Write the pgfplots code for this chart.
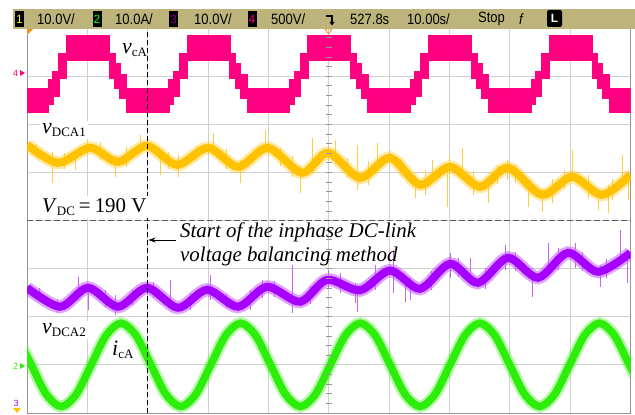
\documentclass[border=0pt]{standalone}
\usepackage{pgfplots}
\pgfplotsset{compat=1.18}
\usetikzlibrary{arrows.meta}
\usepackage{fontspec}
\setmainfont{Liberation Serif}
\newfontfamily\hdr{Liberation Sans}
\definecolor{pinkc}{RGB}{255,0,128}
\definecolor{yellowc}{RGB}{255,194,0}
\definecolor{yspike}{RGB}{255,206,60}
\definecolor{purplec}{RGB}{166,0,255}
\definecolor{pspike}{RGB}{196,100,255}
\definecolor{greenc}{RGB}{45,238,10}
\definecolor{gridc}{RGB}{208,208,208}
\definecolor{borderc}{RGB}{150,150,150}
\definecolor{barc}{RGB}{188,180,122}
\definecolor{orangec}{RGB}{245,140,30}
\newcommand{\hfont}{\hdr\fontsize{15}{15}\selectfont}
\newcommand{\htxt}[1]{\scalebox{0.87}[1]{\hfont #1}}
\newcommand{\sub}[1]{\raisebox{-3.5bp}{\fontsize{13}{13}\selectfont #1}}
\begin{document}
\begin{tikzpicture}[x=1bp,y=1bp]
\fill[white] (0,0) rectangle (635,414);
\begin{axis}[
  at={(27bp,1bp)}, anchor=south west, scale only axis,
  width=603.5bp, height=385bp,
  xmin=0, xmax=10, ymin=-4, ymax=4,
  xtick={1,...,9}, ytick={-3,...,3},
  xticklabels={}, yticklabels={},
  major tick length=0pt,
  grid=major, major grid style={draw=gridc, line width=0.9bp},
  axis line style={draw=borderc, line width=1bp},
  clip=true,
]
% ---- channel 4 : v_cA (pink, multilevel PWM band: upper edge left to right, lower edge right to left)
\addplot[fill=pinkc, draw=pinkc, line width=1.3bp] coordinates {
(0,2.735)
(0.355,2.735)(0.355,2.921)(0.43,2.921)(0.43,3.087)(0.53,3.087)(0.53,3.462)(0.654,3.462)(0.654,3.836)(1.366,3.836)(1.366,3.462)(1.457,3.462)(1.457,3.254)(1.54,3.254)(1.54,3.026)(1.65,3.026)(1.65,2.735)
(2.355,2.735)(2.355,2.921)(2.43,2.921)(2.43,3.087)(2.53,3.087)(2.53,3.462)(2.654,3.462)(2.654,3.836)(3.366,3.836)(3.366,3.462)(3.457,3.462)(3.457,3.254)(3.54,3.254)(3.54,3.026)(3.65,3.026)(3.65,2.735)
(4.355,2.735)(4.355,2.921)(4.43,2.921)(4.43,3.087)(4.53,3.087)(4.53,3.462)(4.654,3.462)(4.654,3.836)(5.366,3.836)(5.366,3.462)(5.457,3.462)(5.457,3.254)(5.54,3.254)(5.54,3.026)(5.65,3.026)(5.65,2.735)
(6.355,2.735)(6.355,2.921)(6.43,2.921)(6.43,3.087)(6.53,3.087)(6.53,3.462)(6.654,3.462)(6.654,3.836)(7.366,3.836)(7.366,3.462)(7.457,3.462)(7.457,3.254)(7.54,3.254)(7.54,3.026)(7.65,3.026)(7.65,2.735)
(8.355,2.735)(8.355,2.921)(8.43,2.921)(8.43,3.087)(8.53,3.087)(8.53,3.462)(8.654,3.462)(8.654,3.836)(9.366,3.836)(9.366,3.462)(9.457,3.462)(9.457,3.254)(9.54,3.254)(9.54,3.026)(9.65,3.026)(9.65,2.735)
(10,2.735)
(10,2.237)
(9.65,2.237)(9.65,2.528)(9.54,2.528)(9.54,2.756)(9.457,2.756)(9.457,2.964)(9.366,2.964)(9.366,3.338)(8.654,3.338)(8.654,2.964)(8.53,2.964)(8.53,2.589)(8.43,2.589)(8.43,2.423)(8.355,2.423)(8.355,2.237)
(7.65,2.237)(7.65,2.528)(7.54,2.528)(7.54,2.756)(7.457,2.756)(7.457,2.964)(7.366,2.964)(7.366,3.338)(6.654,3.338)(6.654,2.964)(6.53,2.964)(6.53,2.589)(6.43,2.589)(6.43,2.423)(6.355,2.423)(6.355,2.237)
(5.65,2.237)(5.65,2.528)(5.54,2.528)(5.54,2.756)(5.457,2.756)(5.457,2.964)(5.366,2.964)(5.366,3.338)(4.654,3.338)(4.654,2.964)(4.53,2.964)(4.53,2.589)(4.43,2.589)(4.43,2.423)(4.355,2.423)(4.355,2.237)
(3.65,2.237)(3.65,2.528)(3.54,2.528)(3.54,2.756)(3.457,2.756)(3.457,2.964)(3.366,2.964)(3.366,3.338)(2.654,3.338)(2.654,2.964)(2.53,2.964)(2.53,2.589)(2.43,2.589)(2.43,2.423)(2.355,2.423)(2.355,2.237)
(1.65,2.237)(1.65,2.528)(1.54,2.528)(1.54,2.756)(1.457,2.756)(1.457,2.964)(1.366,2.964)(1.366,3.338)(0.654,3.338)(0.654,2.964)(0.53,2.964)(0.53,2.589)(0.43,2.589)(0.43,2.423)(0.355,2.423)(0.355,2.237)
(0,2.237)} -- cycle;
% ---- channel 1 : v_DCA1 (yellow)
\addplot[smooth, yellowc, line width=13bp, opacity=0.35] coordinates {
(0,1.572)(0.514,1.198)(1.044,1.510)(1.508,1.219)(1.989,1.551)(2.486,1.157)(3.000,1.510)(3.496,1.115)(3.993,1.510)(4.557,0.991)(4.988,1.406)(5.518,0.887)(6.015,1.302)(6.512,0.742)(7.009,1.115)(7.506,0.700)(7.970,1.094)(8.534,0.534)(9.031,0.908)(9.528,0.534)(10.0,0.949)};
\addplot[draw=none, mark=none, error bars/.cd, y dir=both, y explicit, error mark=none,
  error bar style={line width=0.7bp, draw=yspike}] coordinates {
(0.414,1.105)+-(0,0.322) (0.795,1.261)+-(0,0.208) (1.458,1.136)+-(0,0.228) (1.872,1.624)+-(0,0.156)
(2.502,1.136)+-(0,0.228) (3.082,1.645)+-(0,0.177) (3.529,1.022)+-(0,0.239) (3.944,1.676)+-(0,0.208)
(4.524,0.866)+-(0,0.291) (4.722,1.437)+-(0,0.280) (5.468,1.105)+-(0,0.467) (5.800,1.385)+-(0,0.228)
(6.429,0.710)+-(0,0.239) (6.711,1.053)+-(0,0.208) (6.959,0.721)+-(0,0.436) (7.208,1.229)+-(0,0.280)
(7.639,0.606)+-(0,0.239) (7.954,1.053)+-(0,0.208) (8.302,0.513)+-(0,0.228) (8.534,0.430)+-(0,0.249)
(9.031,1.157)+-(0,0.312) (9.461,0.430)+-(0,0.208) (9.627,0.451)+-(0,0.291) (9.859,1.105)+-(0,0.260)
(9.958,0.741)+-(0,0.312) (1.210,1.448)+-(0,0.187) (2.204,1.209)+-(0,0.260) (5.104,1.416)+-(0,0.260)
(0.15,1.45)+-(0,0.15) (0.62,1.23)+-(0,0.17) (1.0,1.55)+-(0,0.14) (1.65,1.32)+-(0,0.2) (2.35,1.25)+-(0,0.18)
(2.8,1.39)+-(0,0.15) (3.3,1.28)+-(0,0.2) (4.2,1.32)+-(0,0.18) (4.4,1.12)+-(0,0.22) (5.3,1.10)+-(0,0.2)
(5.65,0.98)+-(0,0.25) (6.2,1.10)+-(0,0.2) (6.6,0.79)+-(0,0.25) (7.0,1.11)+-(0,0.22) (7.4,0.78)+-(0,0.25)
(7.8,0.95)+-(0,0.2) (8.1,0.98)+-(0,0.2) (8.7,0.62)+-(0,0.25) (8.9,0.85)+-(0,0.2) (9.3,0.70)+-(0,0.25) (9.7,0.65)+-(0,0.22)};
\addplot[smooth, yellowc, line width=8bp] coordinates {
(0,1.572)(0.514,1.198)(1.044,1.510)(1.508,1.219)(1.989,1.551)(2.486,1.157)(3.000,1.510)(3.496,1.115)(3.993,1.510)(4.557,0.991)(4.988,1.406)(5.518,0.887)(6.015,1.302)(6.512,0.742)(7.009,1.115)(7.506,0.700)(7.970,1.094)(8.534,0.534)(9.031,0.908)(9.528,0.534)(10.0,0.949)};
% ---- channel 3 : v_DCA2 (purple)
\addplot[smooth, purplec, line width=13bp, opacity=0.35] coordinates {
(0,-1.398)(0.547,-1.792)(1.011,-1.398)(1.508,-1.792)(1.989,-1.398)(2.502,-1.813)(2.983,-1.439)(3.496,-1.792)(3.977,-1.377)(4.524,-1.688)(4.971,-1.232)(5.518,-1.450)(6.015,-1.040)(6.512,-1.419)(7.009,-0.899)(7.473,-1.294)(7.970,-0.775)(8.467,-1.190)(8.964,-0.671)(9.461,-1.066)(10.0,-0.671)};
\addplot[draw=none, mark=none, error bars/.cd, y dir=both, y explicit, error mark=none,
  error bar style={line width=0.7bp, draw=pspike}] coordinates {
(0.845,-1.408)+-(0,0.239) (1.011,-1.595)+-(0,0.260) (1.458,-1.751)+-(0,0.208) (2.370,-1.491)+-(0,0.260)
(4.391,-1.418)+-(0,0.498) (5.468,-1.620)+-(0,0.280) (5.766,-1.180)+-(0,0.260) (6.263,-1.464)+-(0,0.228)
(5.435,-1.502)+-(0,0.208) (6.065,-1.055)+-(0,0.447) (6.346,-1.418)+-(0,0.228) (7.009,-0.930)+-(0,0.260)
(8.368,-1.325)+-(0,0.260) (8.633,-0.692)+-(0,0.228) (9.494,-1.148)+-(0,0.228) (9.826,-0.505)+-(0,0.312)
(9.942,-1.055)+-(0,0.239) (3.032,-1.387)+-(0,0.260) (3.695,-1.647)+-(0,0.208) (7.340,-1.055)+-(0,0.280)
(7.920,-0.764)+-(0,0.260) (9.080,-0.723)+-(0,0.260)
(0.2,-1.55)+-(0,0.15) (0.5,-1.78)+-(0,0.15) (1.3,-1.62)+-(0,0.18) (1.75,-1.60)+-(0,0.15) (2.1,-1.45)+-(0,0.17)
(2.7,-1.68)+-(0,0.18) (3.3,-1.67)+-(0,0.15) (3.9,-1.42)+-(0,0.18) (4.1,-1.42)+-(0,0.17) (4.7,-1.55)+-(0,0.18)
(5.0,-1.23)+-(0,0.2) (5.2,-1.30)+-(0,0.2) (6.7,-1.25)+-(0,0.2) (7.15,-0.97)+-(0,0.2) (7.6,-1.20)+-(0,0.22)
(8.1,-0.85)+-(0,0.2) (8.8,-0.80)+-(0,0.22) (9.2,-0.85)+-(0,0.2) (9.6,-1.00)+-(0,0.2)};
\addplot[smooth, purplec, line width=8bp] coordinates {
(0,-1.398)(0.547,-1.792)(1.011,-1.398)(1.508,-1.792)(1.989,-1.398)(2.502,-1.813)(2.983,-1.439)(3.496,-1.792)(3.977,-1.377)(4.524,-1.688)(4.971,-1.232)(5.518,-1.450)(6.015,-1.040)(6.512,-1.419)(7.009,-0.899)(7.473,-1.294)(7.970,-0.775)(8.467,-1.190)(8.964,-0.671)(9.461,-1.066)(10.0,-0.671)};
% ---- channel 2 : i_cA (green)
\addplot[smooth, greenc, line width=12bp, opacity=0.35] coordinates {
(-0.176,-2.388)(0.0717,-3)(0.3195,-3.612)(0.5672,-3.866)(0.8149,-3.612)(1.0627,-3)(1.3104,-2.388)(1.5581,-2.134)
(1.8058,-2.388)(2.0536,-3)(2.3013,-3.612)(2.5490,-3.866)(2.7968,-3.612)(3.0445,-3)(3.2922,-2.388)(3.5400,-2.134)
(3.7877,-2.388)(4.0354,-3)(4.2831,-3.612)(4.5309,-3.866)(4.7786,-3.612)(5.0263,-3)(5.2741,-2.388)(5.5218,-2.134)
(5.7695,-2.388)(6.0172,-3)(6.2650,-3.612)(6.5127,-3.866)(6.7604,-3.612)(7.0082,-3)(7.2559,-2.388)(7.5036,-2.134)
(7.7513,-2.388)(7.9991,-3)(8.2468,-3.612)(8.4945,-3.866)(8.7423,-3.612)(8.9900,-3)(9.2377,-2.388)(9.4855,-2.134)
(9.7332,-2.388)(9.9809,-3)(10.2286,-3.612)};
\addplot[smooth, greenc, line width=7.5bp] coordinates {
(-0.176,-2.388)(0.0717,-3)(0.3195,-3.612)(0.5672,-3.866)(0.8149,-3.612)(1.0627,-3)(1.3104,-2.388)(1.5581,-2.134)
(1.8058,-2.388)(2.0536,-3)(2.3013,-3.612)(2.5490,-3.866)(2.7968,-3.612)(3.0445,-3)(3.2922,-2.388)(3.5400,-2.134)
(3.7877,-2.388)(4.0354,-3)(4.2831,-3.612)(4.5309,-3.866)(4.7786,-3.612)(5.0263,-3)(5.2741,-2.388)(5.5218,-2.134)
(5.7695,-2.388)(6.0172,-3)(6.2650,-3.612)(6.5127,-3.866)(6.7604,-3.612)(7.0082,-3)(7.2559,-2.388)(7.5036,-2.134)
(7.7513,-2.388)(7.9991,-3)(8.2468,-3.612)(8.4945,-3.866)(8.7423,-3.612)(8.9900,-3)(9.2377,-2.388)(9.4855,-2.134)
(9.7332,-2.388)(9.9809,-3)(10.2286,-3.612)};
\end{axis}
% centre-line minor ticks
\foreach \k in {1,...,39} { \draw[borderc, line width=0.7bp] (326,{1+\k*9.625}) -- (332,{1+\k*9.625}); }
% dashed reference lines
\draw[black!65, line width=1.6bp, dash pattern=on 6bp off 3bp] (27,193.5) -- (630.5,193.5);
\draw[black, line width=1.1bp, dash pattern=on 5bp off 3bp] (147.7,1) -- (147.7,385);
% labels
\node[anchor=base west, inner sep=0pt] at (122,361) {{\fontsize{22}{22}\selectfont\itshape v}\sub{cA}};
\node[anchor=base west, fill=white, inner sep=2bp] at (40,281) {{\fontsize{22}{22}\selectfont\itshape v}\sub{DCA1}};
\node[anchor=base west, fill=white, inner sep=2bp] at (40,202) {\fontsize{21}{21}\selectfont\textit{V}\sub{DC}\hspace{4bp}=\hspace{4bp}190 V};
\node[anchor=base west, fill=white, inner sep=2bp] at (40,81) {{\fontsize{22}{22}\selectfont\itshape v}\sub{DCA2}};
\node[anchor=base west, inner sep=0pt] at (112,59) {{\fontsize{22}{22}\selectfont\itshape i}\sub{cA}};
\node[anchor=base west, inner sep=0pt] at (180,177) {\fontsize{21}{21}\selectfont\itshape Start of the inphase DC-link};
\node[anchor=base west, inner sep=0pt] at (180,153) {\fontsize{21}{21}\selectfont\itshape voltage balancing method};
\draw[-{Stealth[length=7bp,width=5bp]}, line width=0.9bp] (176,174) -- (148.5,174);
% channel markers
\node[pinkc, font=\hdr\fontsize{9}{9}\selectfont, inner sep=0pt] at (15.5,341) {4};
\fill[pinkc] (20,344) -- (25,341) -- (20,338) -- cycle;
\node[greenc, font=\hdr\fontsize{9}{9}\selectfont, inner sep=0pt] at (15.5,48) {2};
\fill[greenc] (20,51) -- (25,48) -- (20,45) -- cycle;
\node[purplec, font=\hdr\fontsize{9}{9}\selectfont, inner sep=0pt] at (16,11) {3};
\fill[yellowc] (13,6) -- (21,6) -- (17,1) -- cycle;
\fill[orangec] (27,385) -- (33,385) -- (27,379) -- cycle;
\draw[orangec, line width=0.8bp] (325,385) -- (332,385) -- (328.5,380) -- cycle;
% header bar
\fill[barc] (13,385) rectangle (635,405);
\foreach \cx/\num/\col in {19.5/1/yellow, 97/2/green, 173.5/3/violet, 252/4/magenta} {
  \fill[black] (\cx-4.5,387) rectangle (\cx+4.5,403);
  \node[font=\hdr\fontsize{12}{12}\selectfont, text=\col, inner sep=0pt] at (\cx,395) {\num};
}
\node[anchor=west, inner sep=0pt] at (37,395) {\htxt{10.0V/}};
\node[anchor=west, inner sep=0pt] at (115,395) {\htxt{10.0A/}};
\node[anchor=west, inner sep=0pt] at (194,395) {\htxt{10.0V/}};
\node[anchor=west, inner sep=0pt] at (271,395) {\htxt{500V/}};
\draw[black, line width=1.2bp] (326,398) -- (332,398) -- (332,391);
\fill[black] (329.5,392) -- (334.5,392) -- (332,388.5) -- cycle;
\node[anchor=west, inner sep=0pt] at (350,395) {\htxt{527.8s}};
\node[anchor=west, inner sep=0pt] at (407,395) {\htxt{10.00s/}};
\node[anchor=west, inner sep=0pt] at (478,395) {\htxt{Stop}};
\node[anchor=west, inner sep=0pt] at (519,395) {\htxt{\itshape f}};
\fill[black, rounded corners=2bp] (547,387) rectangle (562,404);
\node[font=\hdr\fontsize{12}{12}\selectfont\bfseries, text=white, inner sep=0pt] at (554.5,395.5) {L};
\pgfresetboundingbox
\path[use as bounding box] (0,0) rectangle (635,414);
\end{tikzpicture}
\end{document}
